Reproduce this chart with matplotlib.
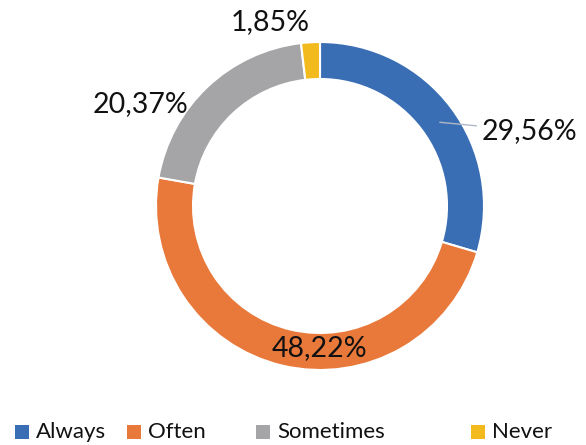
import matplotlib
matplotlib.use("Agg")
import matplotlib.pyplot as plt

categories = ["Always", "Often", "Sometimes", "Never"]
values = [29.56, 48.22, 20.37, 1.85]
labels = ["29,56%", "48,22%", "20,37%", "1,85%"]
colors = ["#3A6EB4", "#E8793A", "#A5A5A8", "#F2BA1C"]

plt.rcParams['font.family'] = ['Lato', 'DejaVu Sans']

W, H = 586, 445
fig = plt.figure(figsize=(W / 100, H / 100), dpi=100)
ax = fig.add_axes([0, 0, 1, 1])
ax.axis('off')

cx, cy, R = 320, H - 206, 164
wedges, _ = ax.pie(values, colors=colors, startangle=90, counterclock=False,
                   center=(cx, cy), radius=R,
                   wedgeprops=dict(width=37, edgecolor='white', linewidth=1.5))
ax.set_xlim(0, W)
ax.set_ylim(0, H)
ax.set_aspect('equal')

fs = 20.5
tc = '#111111'
# Always label with leader line
ax.annotate(labels[0], xy=(437, H - 122), xytext=(482, H - 131),
            fontsize=fs, color=tc, va='center', ha='left',
            arrowprops=dict(arrowstyle='-', color='#B0B8C8', lw=1))
ax.text(320, H - 348, labels[1], fontsize=fs, color=tc, ha='center', va='center')
ax.text(141, H - 104, labels[2], fontsize=fs, color=tc, ha='center', va='center')
ax.text(270, H - 22, labels[3], fontsize=fs, color=tc, ha='center', va='center')

# legend
leg_x = [22, 134, 263, 478]
for x, c, name in zip(leg_x, colors, categories):
    ax.scatter([x], [H - 432], marker='s', s=110, color=c, linewidths=0)
    ax.text(x + 14, H - 432, name, fontsize=16, color=tc, ha='left', va='center')

fig.savefig("out.png", dpi=100)
